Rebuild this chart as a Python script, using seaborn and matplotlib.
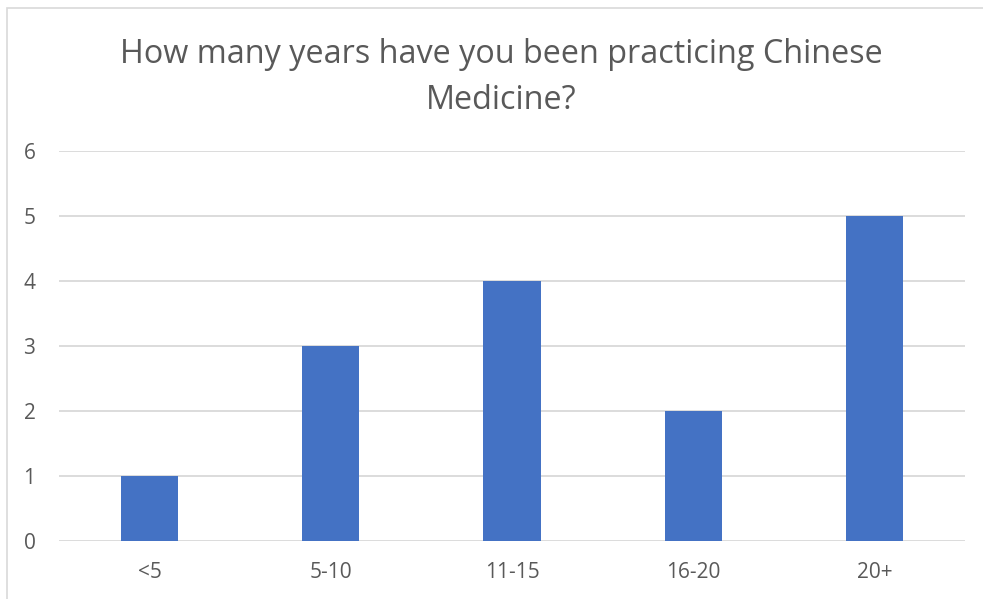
import matplotlib
matplotlib.use("Agg")
import matplotlib.pyplot as plt
import seaborn as sns
import pandas as pd
from matplotlib.patches import Rectangle

categories = ["<5", "5-10", "11-15", "16-20", "20+"]
counts = [1, 3, 4, 2, 5]
yticks = [0, 1, 2, 3, 4, 5, 6]
title = "How many years have you been practicing Chinese\nMedicine?"

sns.set_theme(style="white")
plt.rcParams['font.family'] = ['Open Sans', 'DejaVu Sans']

W, H = 983, 599
fig = plt.figure(figsize=(W / 100, H / 100), dpi=100)
ax = fig.add_axes([59 / W, 1 - 541 / H, (965 - 59) / W, (541 - 151) / H])

df = pd.DataFrame({"cat": categories, "n": counts})
sns.barplot(data=df, x="cat", y="n", color="#4472C4", saturation=1, width=0.315, ax=ax, zorder=3)
for p in ax.patches:
    p.set_edgecolor("none")

ax.set_ylim(0, 6)
ax.set_xlim(-0.5, len(categories) - 0.5)
ax.set_yticks(yticks)
ax.set_yticklabels([str(t) for t in yticks])
for t in yticks:
    ax.axhline(t, color="#D9D9D9", lw=1.3, zorder=1)
for s in ax.spines.values():
    s.set_visible(False)
ax.set_xlabel("")
ax.set_ylabel("")
ax.tick_params(axis="both", length=0, labelsize=15, labelcolor="#595959")
ax.tick_params(axis="y", pad=17)
ax.tick_params(axis="x", pad=15)

fig.text(501 / W, 1 - 77.5 / H, title, ha="center", va="center",
         fontsize=23.3, color="#595959", linespacing=1.54)

fig.patches.append(Rectangle((6.5 / W, -0.05), 1.2, 1 - 7.5 / H + 0.05, transform=fig.transFigure,
                             fill=False, edgecolor="#D9D9D9", lw=1.2))

fig.savefig("out.png", dpi=100)
